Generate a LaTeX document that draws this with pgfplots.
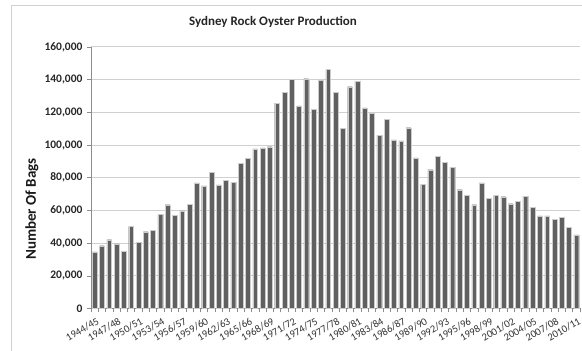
\documentclass[border=0pt]{standalone}
\usepackage{pgfplots}
\pgfplotsset{compat=1.18}
\usepackage{pgfplotstable}
\usepackage{fontspec}
\setmainfont{Carlito}

% Sydney Rock Oyster production, bags per season (index 0 = 1944/45)
\pgfplotstableread{
idx bags
0 34600
1 38400
2 42100
3 39600
4 35000
5 50300
6 40500
7 47000
8 48000
9 57600
10 63500
11 57200
12 59800
13 63700
14 76900
15 75100
16 83300
17 75700
18 78400
19 77200
20 88800
21 91900
22 97700
23 98300
24 99000
25 125700
26 132400
27 140200
28 124000
29 140600
30 122000
31 139800
32 146300
33 132400
34 110200
35 135700
36 139100
37 122800
38 119600
39 106100
40 115900
41 103100
42 102600
43 110600
44 92200
45 76000
46 84900
47 93300
48 89600
49 86300
50 72700
51 69400
52 63500
53 76900
54 67600
55 69200
56 68400
57 64100
58 65600
59 68800
60 61900
61 56600
62 56600
63 54700
64 55800
65 49800
66 45000
}\oysters

\definecolor{barfill}{HTML}{606060}
\definecolor{gridgray}{HTML}{D0D0D0}
\definecolor{axisgray}{HTML}{8C8C8C}

\begin{document}
\begin{tikzpicture}[x=1pt,y=1pt]
\useasboundingbox (0,0) rectangle (582,351);
% chart frame
\draw[gray!35, line width=1pt] (11.5,0) -- (11.5,345) -- (582,345);
\node[font=\bfseries\fontsize{13}{15}\selectfont, text=black!85] at (273,329) {Sydney Rock Oyster Production};
\node[font=\bfseries\fontsize{15}{17}\selectfont, rotate=90, text=black!90] at (32,142) {Number Of Bags};
\begin{axis}[
  at={(91pt,42.5pt)}, anchor=south west,
  width=489pt, height=261.5pt, scale only axis,
  xmin=-0.5, xmax=66.5, ymin=0, ymax=160000,
  axis lines=left, axis line style={-, axisgray, line width=0.7pt},
  ytick={0,20000,...,160000},
  scaled y ticks=false,
  /pgf/number format/.cd, fixed, 1000 sep={,}, assume math mode=true,
  /pgfplots/.cd,
  yticklabel style={font=\bfseries\fontsize{11.5}{13}\selectfont, text=black!85, xshift=-1pt},
  ymajorgrids, grid style={gridgray, line width=1pt},
  xtick={0,3,...,66},
  xticklabels={1944/45,1947/48,1950/51,1953/54,1956/57,1959/60,1962/63,1965/66,1968/69,1971/72,1974/75,1977/78,1980/81,1983/84,1986/87,1989/90,1992/93,1995/96,1998/99,2001/02,2004/05,2007/08,2010/11},
  xticklabel style={font=\fontsize{10.5}{12}\selectfont, text=black!80, rotate=30, anchor=north east, inner sep=0.5pt, yshift=-4pt, xshift=-0.5pt},
  minor xtick={-0.5,0.5,...,66.5},
  tick align=outside,
  x tick style={draw=none},
  minor x tick style={draw=axisgray, line width=0.6pt},
  y tick style={axisgray, line width=0.6pt},
  major tick length=4pt, minor tick length=4pt,
  clip=false,
]
\addplot[ybar, bar width=4.8pt, fill=barfill, draw=white!80!black, line width=0.3pt] table[x=idx, y=bags] {\oysters};
\end{axis}
\end{tikzpicture}
\end{document}
